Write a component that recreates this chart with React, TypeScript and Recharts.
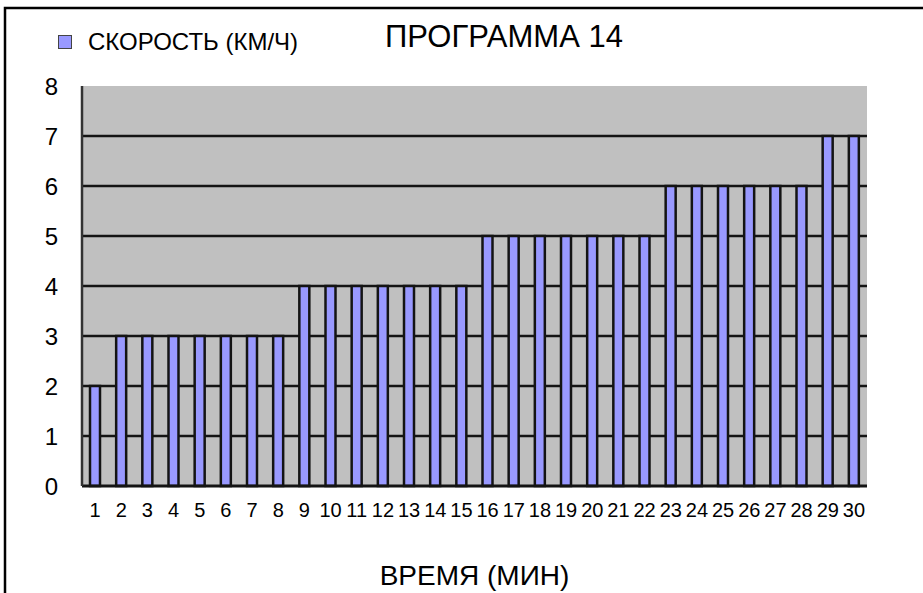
import { Bar, BarChart, CartesianGrid, Legend, XAxis, YAxis } from "recharts";

const FONT = '"Liberation Sans", Arial, sans-serif';
const BAR_FILL = "#9999FF"; // classic office-chart periwinkle
const PLOT_BG = "#C0C0C0";
const INK = "#141414";
const FRAME = "#8A8A8A";

// minutes on the x axis
const MINUTES = [
  "1", "2", "3", "4", "5", "6", "7", "8", "9", "10",
  "11", "12", "13", "14", "15", "16", "17", "18", "19", "20",
  "21", "22", "23", "24", "25", "26", "27", "28", "29", "30",
];
// speed in km/h for each minute
const SPEED = [
  2, 3, 3, 3, 3, 3, 3, 3, 4, 4,
  4, 4, 4, 4, 4, 5, 5, 5, 5, 5,
  5, 5, 6, 6, 6, 6, 6, 6, 7, 7,
];
const Y_TICKS = [0, 1, 2, 3, 4, 5, 6, 7, 8];
const GRID_LEVELS = [1, 2, 3, 4, 5, 6, 7];

const SERIES_NAME = "СКОРОСТЬ (КМ/Ч)";
const TITLE = "ПРОГРАММА 14";
const X_TITLE = "ВРЕМЯ (МИН)";

const data = MINUTES.map((minute, i) => ({ minute, speed: SPEED[i] }));

function LegendBox() {
  return (
    <div style={{ display: "flex", alignItems: "center", fontFamily: FONT, fontSize: 24, color: "#000", whiteSpace: "nowrap" }}>
      <span
        style={{
          display: "inline-block",
          width: 12,
          height: 12,
          background: BAR_FILL,
          border: "1.5px solid #444",
          marginRight: 16,
        }}
      />
      <span>{SERIES_NAME}</span>
    </div>
  );
}

export default function App() {
  return (
    <div style={{ position: "absolute", left: 0, top: 0, width: 923, height: 593, fontFamily: FONT, background: "#fff" }}>
      <div
        style={{
          position: "absolute",
          left: 56,
          top: 22,
          width: 896,
          textAlign: "center",
          fontSize: 31,
          lineHeight: "30px",
          whiteSpace: "nowrap",
          color: "#000",
          zIndex: 1,
        }}
      >
        {TITLE}
      </div>

      <BarChart width={923} height={593} data={data} margin={{ top: 86, right: 56, bottom: 0, left: 42 }}>
        <CartesianGrid
          vertical={false}
          horizontalValues={GRID_LEVELS}
          fill={PLOT_BG}
          fillOpacity={1}
          stroke={INK}
          strokeWidth={2.5}
        />
        <XAxis
          dataKey="minute"
          interval={0}
          height={107}
          tickSize={0}
          tickMargin={17}
          tickLine={false}
          fontSize={20}
          axisLine={{ stroke: INK, strokeWidth: 3 }}
          tick={{ fill: "#000", fontSize: 20, fontFamily: FONT }}
          label={{ value: X_TITLE, position: "insideBottom", offset: 8, fill: "#000", fontSize: 28, fontFamily: FONT }}
        />
        {/* thin grey border along the top of the plot */}
        <XAxis xAxisId="top" dataKey="minute" orientation="top" height={0} tick={false} tickLine={false} axisLine={{ stroke: FRAME, strokeWidth: 1.5 }} />
        <YAxis
          domain={[0, 8]}
          ticks={Y_TICKS}
          width={40}
          tickSize={0}
          tickMargin={24}
          tickLine={false}
          fontSize={24}
          axisLine={{ stroke: "#333", strokeWidth: 2.5 }}
          tick={{ fill: "#000", fontSize: 24, fontFamily: FONT }}
        />
        {/* and down the right side */}
        <YAxis yAxisId="right" orientation="right" domain={[0, 8]} width={0} tick={false} tickLine={false} axisLine={{ stroke: FRAME, strokeWidth: 1.5 }} />
        <Legend
          layout="vertical"
          verticalAlign="middle"
          align="center"
          wrapperStyle={{ top: 28, left: 58, width: "auto", height: "auto" }}
          content={() => <LegendBox />}
        />
        <Bar
          dataKey="speed"
          name={SERIES_NAME}
          fill={BAR_FILL}
          stroke={INK}
          strokeWidth={2.5}
          barSize={10}
          isAnimationActive={false}
        />
      </BarChart>

      {/* outer frame: only the top and left edges are drawn */}
      <svg width={923} height={593} style={{ position: "absolute", left: 0, top: 0, pointerEvents: "none", zIndex: 3 }}>
        <path d="M5 593 V8 H923" fill="none" stroke="#000" strokeWidth={2.5} />
      </svg>
    </div>
  );
}
